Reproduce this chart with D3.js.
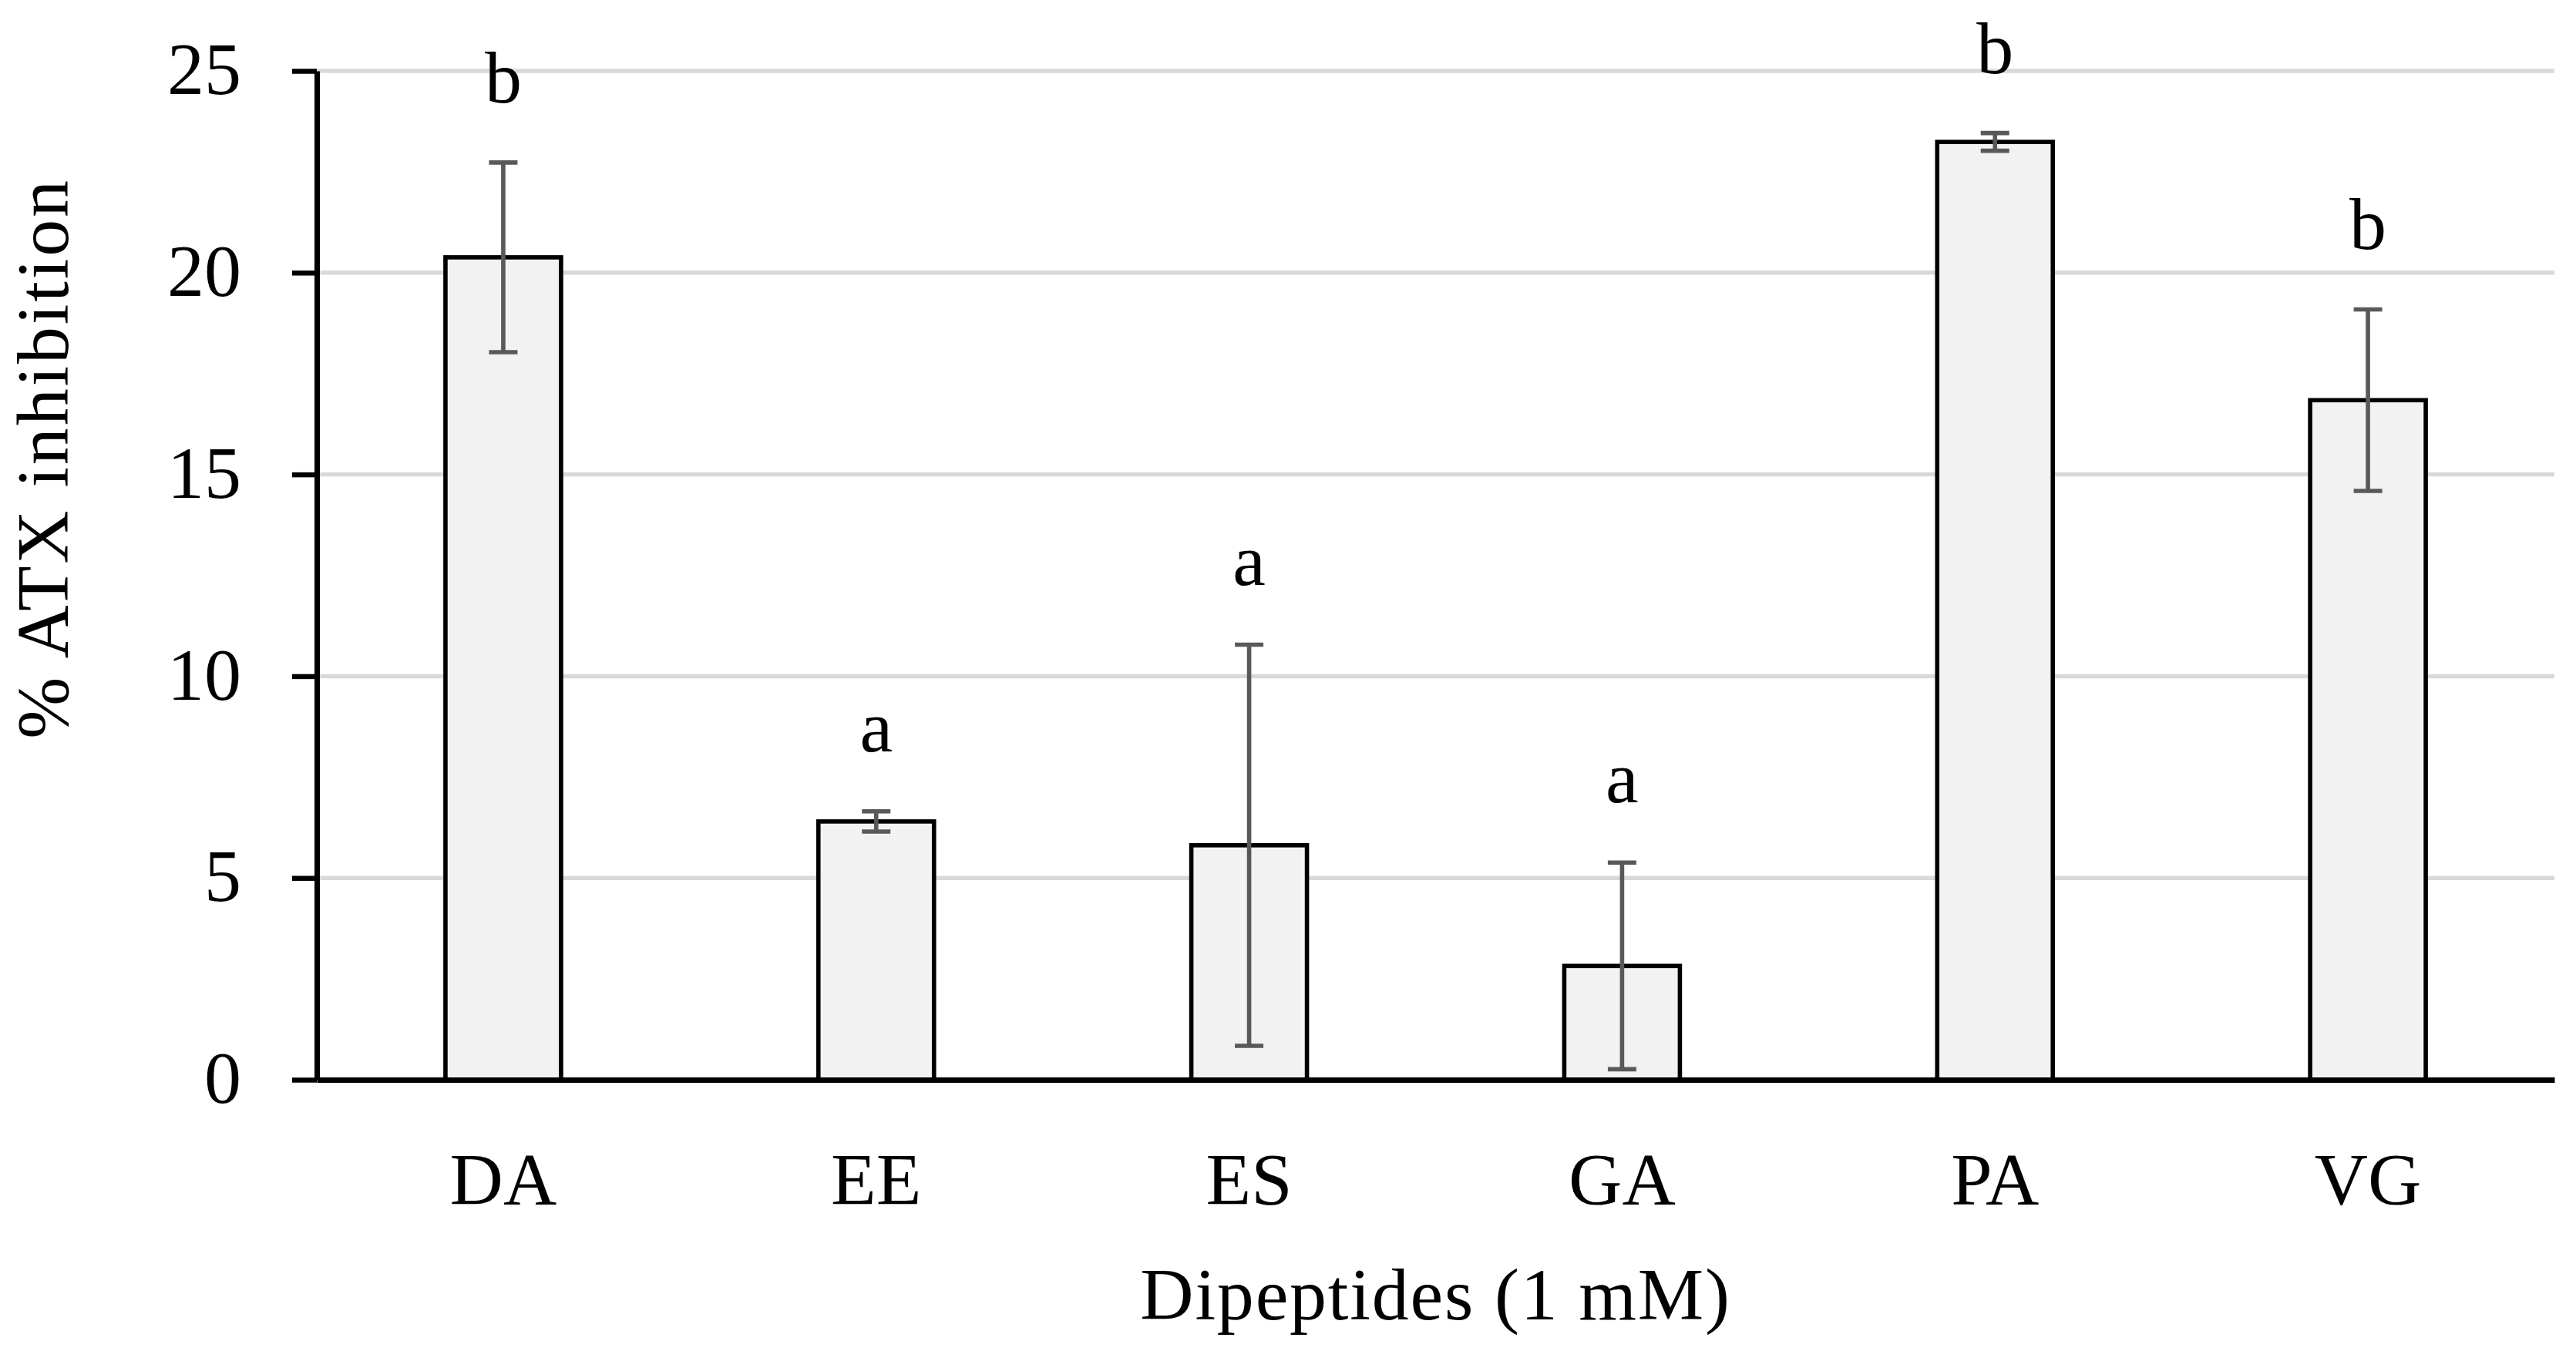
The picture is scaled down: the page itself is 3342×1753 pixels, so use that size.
<!DOCTYPE html>
<html>
<head>
<meta charset="utf-8">
<script src="https://cdn.jsdelivr.net/npm/d3@7"></script>
<style>
  html, body { margin: 0; padding: 0; background: #fff; }
  svg { display: block; }
  text { font-family: "Palatino Linotype", "Book Antiqua", Palatino, "Liberation Serif", "Times New Roman", serif; fill: #000; }
</style>
</head>
<body>
<script>
const categories = ["DA", "EE", "ES", "GA", "PA", "VG"];
const values = [20.38, 6.40, 5.81, 2.82, 23.24, 16.84];
const errors = [2.35, 0.25, 4.97, 2.56, 0.22, 2.25];
const letters = ["b", "a", "a", "a", "b", "b"];
const yTicks = [0, 5, 10, 15, 20, 25];
const xTitle = "Dipeptides (1 mM)";
const yTitle = "% ATX inhibition";

const W = 3342, H = 1753;
const plot = { left: 411, right: 3314, top: 92, bottom: 1401 };
const FS = 96;

const svg = d3.select("body").append("svg").attr("width", W).attr("height", H);

const x = d3.scaleBand().domain(categories).range([plot.left, plot.right])
  .paddingInner(0.69).paddingOuter(0.345);
const y = d3.scaleLinear().domain([0, 25]).range([plot.bottom, plot.top]);

// gridlines
svg.append("g").selectAll("line").data(yTicks.filter(d => d > 0)).join("line")
  .attr("x1", plot.left).attr("x2", plot.right)
  .attr("y1", d => y(d)).attr("y2", d => y(d))
  .attr("stroke", "#d9d9d9").attr("stroke-width", 5.5);

const data = categories.map((c, i) => ({ c, v: values[i], e: errors[i], l: letters[i] }));

// bars
svg.append("g").selectAll("rect").data(data).join("rect")
  .attr("x", d => x(d.c)).attr("width", x.bandwidth())
  .attr("y", d => y(d.v)).attr("height", d => y(0) - y(d.v))
  .attr("fill", "#f2f2f2").attr("stroke", "#000").attr("stroke-width", 5.6);

// error bars
const eg = svg.append("g").attr("stroke", "#595959").attr("stroke-width", 5.6);
const cap = 18.5;
data.forEach(d => {
  const cx = x(d.c) + x.bandwidth() / 2;
  eg.append("line").attr("x1", cx).attr("x2", cx).attr("y1", y(d.v + d.e)).attr("y2", y(d.v - d.e));
  eg.append("line").attr("x1", cx - cap).attr("x2", cx + cap).attr("y1", y(d.v + d.e)).attr("y2", y(d.v + d.e));
  eg.append("line").attr("x1", cx - cap).attr("x2", cx + cap).attr("y1", y(d.v - d.e)).attr("y2", y(d.v - d.e));
});

// significance letters
svg.append("g").selectAll("text").data(data).join("text")
  .attr("x", d => x(d.c) + x.bandwidth() / 2)
  .attr("y", d => y(d.v + d.e) - 78)
  .attr("text-anchor", "middle").attr("font-size", FS)
  .text(d => d.l);

// y axis
const yAxis = svg.append("g").attr("transform", `translate(${plot.left},0)`)
  .call(d3.axisLeft(y).tickValues(yTicks).tickSize(32).tickSizeOuter(0).tickPadding(66));
yAxis.select(".domain").attr("stroke", "#000").attr("stroke-width", 7);
yAxis.selectAll(".tick line").attr("stroke", "#000").attr("stroke-width", 6.5);
yAxis.selectAll(".tick text").attr("font-size", FS).attr("font-family", null).attr("fill", "#000").attr("dy", "0.31em");

// x axis
const xAxis = svg.append("g").attr("transform", `translate(0,${plot.bottom})`)
  .call(d3.axisBottom(x).tickSize(0).tickSizeOuter(0));
xAxis.select(".domain").attr("stroke", "#000").attr("stroke-width", 7);
xAxis.selectAll(".tick text").attr("font-size", FS).attr("font-family", null).attr("fill", "#000")
  .attr("dy", null).attr("y", 162);

// titles
svg.append("text").attr("x", (plot.left + plot.right) / 2).attr("y", 1712)
  .attr("text-anchor", "middle").attr("font-size", FS).attr("letter-spacing", 1.8).text(xTitle);
svg.append("text").attr("transform", "translate(88,595) rotate(-90)")
  .attr("text-anchor", "middle").attr("font-size", FS).attr("letter-spacing", 2.8).text(yTitle);
</script>
</body>
</html>
